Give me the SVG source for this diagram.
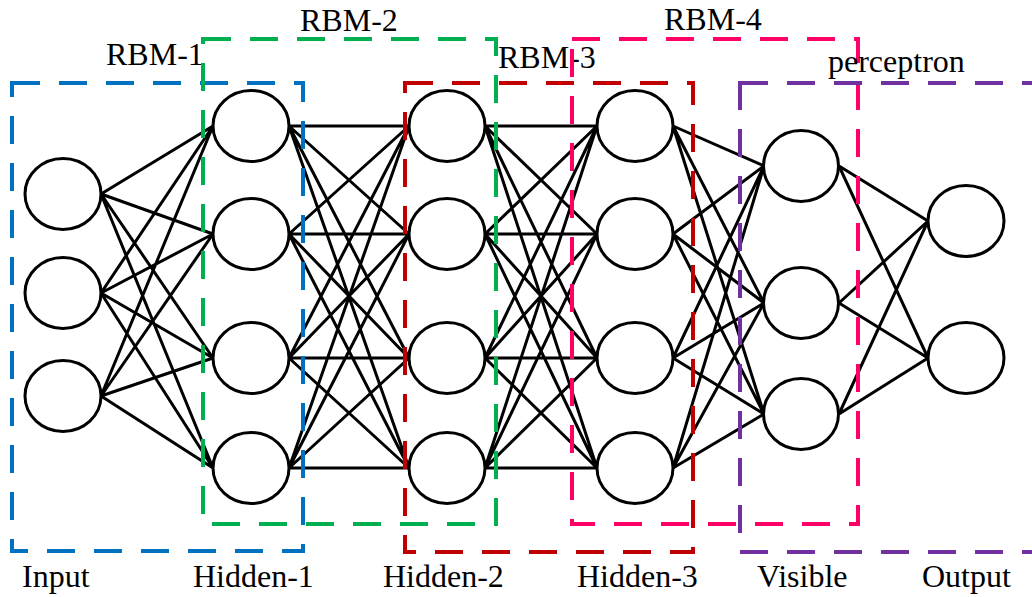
<svg xmlns="http://www.w3.org/2000/svg" width="1032" height="597" viewBox="0 0 1032 597">
<style>
.edge{stroke:#000;stroke-width:3;fill:none}
.node{fill:#fff;stroke:#000;stroke-width:3}
.box{fill:none;stroke-width:4;stroke-dasharray:28 19}
.lbl{font-family:"Liberation Serif","Times New Roman",serif;font-size:32px;fill:#000}
</style>
<rect width="1032" height="597" fill="#fff"/>
<g id="connectors">
<path class="edge" d="M101 194L213 126M101 194L213 234M101 194L213 358M101 194L213 468M101 293L213 126M101 293L213 234M101 293L213 358M101 293L213 468M101 396L213 126M101 396L213 234M101 396L213 358M101 396L213 468"/>
<path class="edge" d="M289 126L409 126M289 126L409 234M289 126L409 358M289 126L409 468M289 234L409 126M289 234L409 234M289 234L409 358M289 234L409 468M289 358L409 126M289 358L409 234M289 358L409 358M289 358L409 468M289 468L409 126M289 468L409 234M289 468L409 358M289 468L409 468"/>
<path class="edge" d="M485 126L597 126M485 126L597 234M485 126L597 358M485 126L597 468M485 234L597 126M485 234L597 234M485 234L597 358M485 234L597 468M485 358L597 126M485 358L597 234M485 358L597 358M485 358L597 468M485 468L597 126M485 468L597 234M485 468L597 358M485 468L597 468"/>
<path class="edge" d="M673 126L764 166M673 126L764 303M673 126L764 414M673 234L764 166M673 234L764 303M673 234L764 414M673 358L764 166M673 358L764 303M673 358L764 414M673 468L764 166M673 468L764 303M673 468L764 414"/>
<path class="edge" d="M839 166L928 221M839 166L928 358M839 303L928 221M839 303L928 358M839 414L928 221M839 414L928 358"/>
</g>
<g id="rbm1">
<rect class="box" stroke="#0070C0" x="12" y="83" width="291" height="468"/>
<text class="lbl" x="106" y="65">RBM-1</text>
</g>
<g id="rbm2">
<rect class="box" stroke="#00B050" x="203" y="39" width="293" height="485"/>
<text class="lbl" x="300" y="31">RBM-2</text>
</g>
<g id="rbm3">
<rect class="box" stroke="#C00000" x="405" y="83" width="288" height="469"/>
<text class="lbl" x="498" y="68">RBM-3</text>
</g>
<g id="rbm4">
<rect class="box" stroke="#FF0066" x="572" y="39" width="286" height="485"/>
<text class="lbl" x="664" y="30">RBM-4</text>
</g>
<g id="perceptron">
<rect class="box" stroke="#7030A0" x="740" y="83" width="320" height="469"/>
<text class="lbl" x="828" y="72">perceptron</text>
</g>
<g id="input">
<ellipse class="node" cx="63" cy="194" rx="38" ry="35.5"/>
<ellipse class="node" cx="63" cy="293" rx="38" ry="35.5"/>
<ellipse class="node" cx="63" cy="396" rx="38" ry="35.5"/>
<text class="lbl" x="22" y="587">Input</text>
</g>
<g id="hidden1">
<ellipse class="node" cx="251" cy="126" rx="38" ry="35.5"/>
<ellipse class="node" cx="251" cy="234" rx="38" ry="35.5"/>
<ellipse class="node" cx="251" cy="358" rx="38" ry="35.5"/>
<ellipse class="node" cx="251" cy="468" rx="38" ry="35.5"/>
<text class="lbl" x="193" y="587">Hidden-1</text>
</g>
<g id="hidden2">
<ellipse class="node" cx="447" cy="126" rx="38" ry="35.5"/>
<ellipse class="node" cx="447" cy="234" rx="38" ry="35.5"/>
<ellipse class="node" cx="447" cy="358" rx="38" ry="35.5"/>
<ellipse class="node" cx="447" cy="468" rx="38" ry="35.5"/>
<text class="lbl" x="383" y="587">Hidden-2</text>
</g>
<g id="hidden3">
<ellipse class="node" cx="635" cy="126" rx="38" ry="35.5"/>
<ellipse class="node" cx="635" cy="234" rx="38" ry="35.5"/>
<ellipse class="node" cx="635" cy="358" rx="38" ry="35.5"/>
<ellipse class="node" cx="635" cy="468" rx="38" ry="35.5"/>
<text class="lbl" x="577" y="587">Hidden-3</text>
</g>
<g id="visible">
<ellipse class="node" cx="801" cy="166" rx="37.5" ry="35.5"/>
<ellipse class="node" cx="801" cy="303" rx="37.5" ry="35.5"/>
<ellipse class="node" cx="801" cy="414" rx="37.5" ry="35.5"/>
<text class="lbl" x="757" y="587">Visible</text>
</g>
<g id="output">
<ellipse class="node" cx="966" cy="221" rx="38" ry="35.5"/>
<ellipse class="node" cx="966" cy="358" rx="38" ry="35.5"/>
<text class="lbl" x="922" y="587">Output</text>
</g>
</svg>
